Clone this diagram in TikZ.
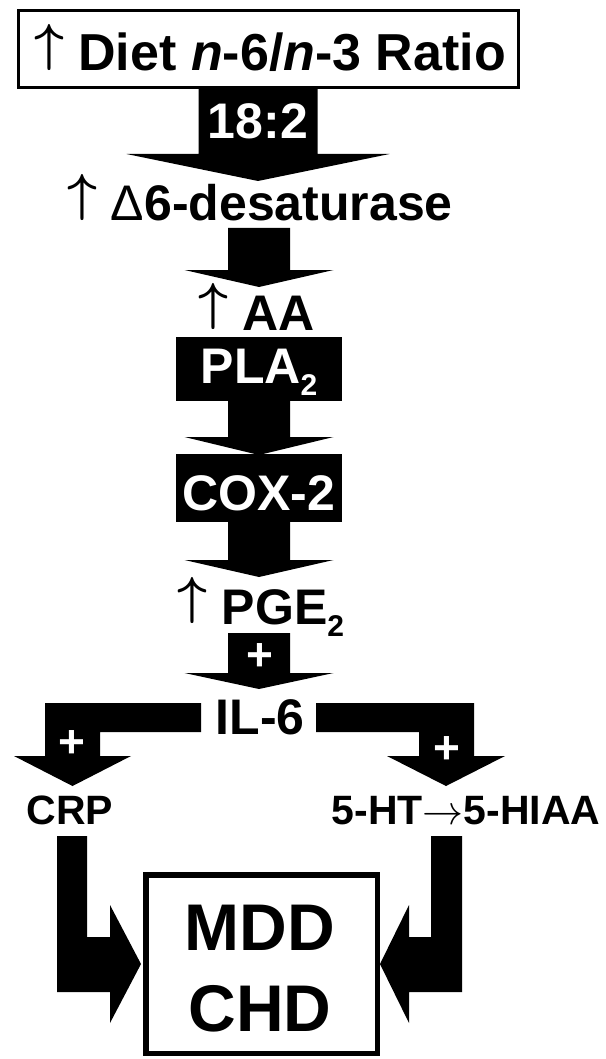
\documentclass[tikz,border=0pt]{standalone}
\usepackage{fontspec}
\setmainfont{Liberation Sans}
\usetikzlibrary{calc}

% thin arrows taken from the 10pt math font and scaled up; the up arrow stands on the baseline
\newcommand\uparr{\scalebox{5.2}{\fontsize{10}{12}\selectfont\boldmath\raisebox{1.94pt}{$\uparrow$}}}
\newcommand\rtarr{\scalebox{4.1}{\fontsize{10}{12}\selectfont${\rightarrow}$}}
% lowered small "2"
\newcommand\lowtwo{\raisebox{-12pt}{\fontsize{30}{34}\selectfont 2}}
% outlined capital delta in the light weight
\newcommand\lightdelta{{\mdseries Δ}}

\tikzset{
  every node/.style={inner sep=0pt, outer sep=0pt},
  lbl/.style={font=\bfseries\fontsize{50}{56}\selectfont, anchor=base},
  toplbl/.style={font=\bfseries\fontsize{52}{58}\selectfont, anchor=base},
  wlbl/.style={lbl, text=white},
  plus/.style={font=\bfseries\fontsize{46}{50}\selectfont, anchor=base, text=white},
  smalllbl/.style={font=\bfseries\fontsize{41}{46}\selectfont, anchor=base},
  biglbl/.style={font=\bfseries\fontsize{66}{74}\selectfont, anchor=base},
  frame/.style={draw=black, line width=3.5pt},
  thickframe/.style={draw=black, line width=5.5pt},
  enzyme/.style={fill=black, minimum width=166pt},
  block/.style={fill=black},
}

% straight block arrow pointing down: start, tip, head length, shaft half width, head half width
\newcommand\DownBlock[5]{%
  \fill let \p1=(#1), \p2=(#2) in
    (\x1-#4pt,\y1) -- (\x1+#4pt,\y1) -- (\x1+#4pt,\y2+#3pt) -- (\x1+#5pt,\y2+#3pt)
    -- (\x2,\y2) -- (\x1-#5pt,\y2+#3pt) -- (\x1-#4pt,\y2+#3pt) -- cycle;}

\begin{document}
\begin{tikzpicture}[x=1pt, y=-1pt]
\useasboundingbox (0,0) rectangle (605,1059);

% ---- input box
\node[frame, minimum width=500pt, minimum height=77pt] (diet) at (268.5,49) {};
\node[toplbl] (diettext) at (270,71) {\uparr\ Diet \textit{n}-6/\textit{n}-3 Ratio};

% ---- linoleic acid arrow
\coordinate (s1) at (258,88);
\coordinate (t1) at (258,181);
\DownBlock{s1}{t1}{27}{59.5}{131.5}
\node[wlbl] (la) at (258,139) {18:2};

\node[lbl] (desat) at (260,221) {\uparr\ \lightdelta6-desaturase};

\coordinate (s2) at (259,228);
\coordinate (t2) at (259,287);
\DownBlock{s2}{t2}{17}{31}{74.5}

\node[lbl] (aa) at (257,330) {\uparr\ AA};

% ---- enzymes
\node[enzyme, minimum height=64pt] (pla) at (259,369) {};
\node[wlbl] (platext) at (259,383) {PLA\lowtwo};

\coordinate (s3) at (259,401);
\coordinate (t3) at (259,455);
\DownBlock{s3}{t3}{18}{31}{74.5}

\node[enzyme, minimum height=68pt] (cox) at (259,488) {};
\node[wlbl] (coxtext) at (259,510) {COX-2};

\coordinate (s4) at (259,522);
\coordinate (t4) at (259,577);
\DownBlock{s4}{t4}{17}{31}{74.5}

\node[lbl] (pge) at (261,624) {\uparr\ PGE\lowtwo};

\coordinate (s5) at (259,633);
\coordinate (t5) at (259,689);
\DownBlock{s5}{t5}{16}{31}{74.5}
\node[plus] (p0) at (260,670) {+};

\node[lbl] (il6) at (260,734) {IL-6};

% ---- branches from IL-6
\fill[block] (201,703) -- (45,703) -- (45,756) -- (14,756) -- (72.5,786)
  -- (131,756) -- (100,756) -- (100,732) -- (201,732) -- cycle;
\fill[block] (316,703) -- (474,703) -- (474,756) -- (505,756) -- (446,786)
  -- (387,756) -- (419,756) -- (419,732) -- (316,732) -- cycle;
\node[plus] (p1) at (72,757) {+};
\node[plus] (p2) at (447,763) {+};

\node[smalllbl] (crp) at (70,824) {CRP};
\node[smalllbl] (ht) at (466,824) {5-HT\rtarr5-HIAA};

% ---- outcome box
\node[thickframe, minimum width=231.5pt, minimum height=178.5pt] (mdd) at (261.5,964) {};
\node[biglbl] (mddtext) at (260,950) {MDD};
\node[biglbl] (chdtext) at (260,1031) {CHD};

% ---- bent arrows into the outcome box
\fill[block] (57,836) -- (87,836) -- (87,937) -- (110,937) -- (110,905) -- (141,964)
  -- (110,1023) -- (110,992) -- (57,992) -- cycle;
\fill[block] (462,836) -- (431,836) -- (431,937) -- (409,937) -- (409,905) -- (380,964)
  -- (409,1023) -- (409,992) -- (462,992) -- cycle;
\end{tikzpicture}
\end{document}
